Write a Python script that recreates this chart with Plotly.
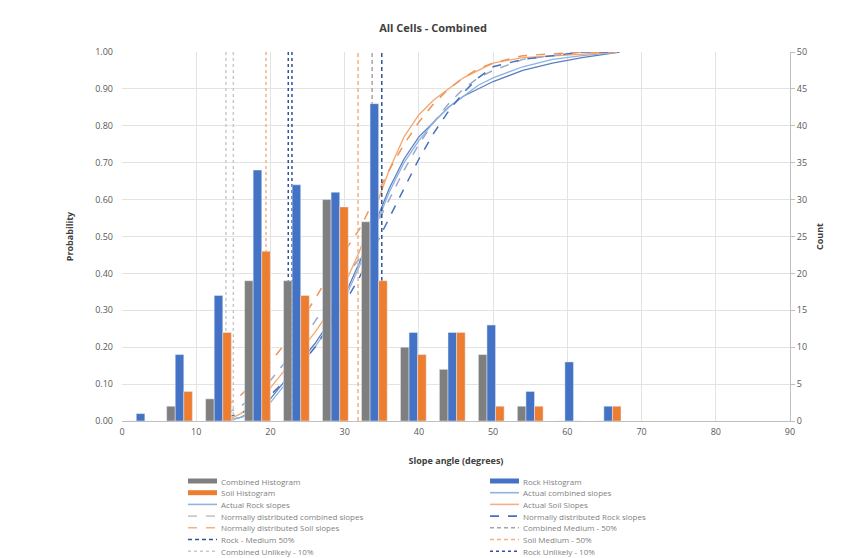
import plotly.graph_objects as go

# ---------------- data ----------------
bin_centers = [2.5, 7.75, 13.0, 18.25, 23.5, 28.75, 34.0, 39.25, 44.5, 49.75, 55.0, 60.25, 65.5]
combined_counts = [0, 2, 3, 19, 19, 30, 27, 10, 7, 9, 2, 0, 0]
rock_counts = [1, 9, 17, 34, 32, 31, 43, 12, 12, 13, 4, 8, 2]
soil_counts = [0, 4, 12, 23, 17, 29, 19, 9, 12, 2, 2, 0, 2]

cdf_x = [14, 16, 18, 20, 22, 24, 26, 28, 30, 32, 34, 36, 38, 40, 42, 44, 46, 48, 50, 54, 58, 62, 67]
actual_soil = [0, 0.02, 0.05, 0.09, 0.14, 0.19, 0.24, 0.30, 0.37, 0.46, 0.57, 0.68, 0.77, 0.83, 0.87, 0.90, 0.93, 0.95, 0.97, 0.985, 0.99, 0.995, 1.0]
actual_combined = [0, 0.01, 0.03, 0.06, 0.11, 0.16, 0.21, 0.27, 0.34, 0.43, 0.53, 0.63, 0.71, 0.77, 0.81, 0.85, 0.88, 0.90, 0.92, 0.95, 0.97, 0.985, 1.0]
actual_rock = [0, 0.01, 0.02, 0.05, 0.10, 0.15, 0.20, 0.26, 0.33, 0.42, 0.52, 0.62, 0.70, 0.76, 0.81, 0.85, 0.88, 0.91, 0.93, 0.96, 0.98, 0.99, 1.0]
normal_soil = [0.04, 0.07, 0.11, 0.16, 0.21, 0.27, 0.33, 0.40, 0.46, 0.52, 0.60, 0.68, 0.75, 0.81, 0.86, 0.90, 0.93, 0.955, 0.97, 0.99, 0.995, 1.0, 1.0]
normal_combined = [0.02, 0.04, 0.07, 0.11, 0.16, 0.21, 0.27, 0.33, 0.39, 0.44, 0.52, 0.60, 0.68, 0.75, 0.81, 0.86, 0.90, 0.93, 0.95, 0.98, 0.99, 1.0, 1.0]
normal_rock = [0.01, 0.02, 0.04, 0.07, 0.11, 0.15, 0.20, 0.26, 0.32, 0.39, 0.47, 0.55, 0.63, 0.71, 0.78, 0.84, 0.89, 0.93, 0.96, 0.98, 0.99, 1.0, 1.0]

combined_median = 33.7
rock_median = 35.0
soil_median = 31.8
combined_unlikely = [14.0, 15.0]
rock_unlikely = [22.4, 22.9]
soil_unlikely = 19.4

x_ticks = [0, 10, 20, 30, 40, 50, 60, 70, 80, 90]

# ---------------- styling ----------------
C_GRAY = "#7f7f7f"
C_BLUE = "#4472c4"
C_ORANGE = "#ed7d31"
FONT = "Open Sans"
TXT = "#595959"
SHORT_DASH = "4px,3px"

fig = go.Figure()

fig.add_trace(go.Bar(x=bin_centers, y=combined_counts, name="Combined Histogram",
                     marker_color=C_GRAY, yaxis="y2", showlegend=False))
fig.add_trace(go.Bar(x=bin_centers, y=rock_counts, name="Rock Histogram",
                     marker_color=C_BLUE, yaxis="y2", showlegend=False))
fig.add_trace(go.Bar(x=bin_centers, y=soil_counts, name="Soil Histogram",
                     marker_color=C_ORANGE, yaxis="y2", showlegend=False))

lines = [
    ("Actual combined slopes", actual_combined, "#5a7fc0", "solid", 1.3),
    ("Actual Rock slopes", actual_rock, "#8db3e2", "solid", 1.3),
    ("Actual Soil Slopes", actual_soil, "#f4a76f", "solid", 1.3),
    ("Normally distributed combined slopes", normal_combined, "#9aa9cc", "dash", 1.5),
    ("Normally distributed Rock slopes", normal_rock, "#4a6fc0", "dash", 1.5),
    ("Normally distributed Soil slopes", normal_soil, "#f0955a", "dash", 1.5),
]
for name, ys, col, dash, w in lines:
    fig.add_trace(go.Scatter(x=cdf_x, y=ys, name=name, mode="lines",
                             line=dict(color=col, dash=dash, width=w), showlegend=False))

def vline(name, xs, col, dash, w=1.5):
    if not isinstance(xs, list):
        xs = [xs]
    xx, yy = [], []
    for v in xs:
        xx += [v, v, None]
        yy += [0, 1, None]
    fig.add_trace(go.Scatter(x=xx, y=yy, name=name, mode="lines",
                             line=dict(color=col, dash=dash, width=w), showlegend=False))

vline("Combined Medium - 50%", combined_median, "#a5a5a5", SHORT_DASH)
vline("Rock - Medium 50%", rock_median, "#2f5597", SHORT_DASH)
vline("Soil Medium - 50%", soil_median, "#f4b183", SHORT_DASH)
vline("Combined Unlikely - 10%", combined_unlikely, "#c9c9c9", "dot")
vline("Rock Unlikely - 10%", rock_unlikely, "#2f5597", "dot")
vline("Soil Unlikely - 10%", soil_unlikely, "#f4b183", "dot")

# ---------------- layout ----------------
# page body has an 8px margin; positions below are in figure pixels
W, H = 845, 558
OFF = 8
L, R, T, B = 122 - OFF, 790 - OFF, 52 - OFF, 421 - OFF

fig.update_layout(
    width=W, height=H,
    margin=dict(l=L, r=W - R, t=T, b=H - B, pad=0),
    paper_bgcolor="white", plot_bgcolor="white",
    barmode="group", bargap=0.34, bargroupgap=0,
    font=dict(family=FONT, size=9, color=TXT),
    title=dict(text="<b>All Cells - Combined</b>", x=(433 - OFF) / W, xanchor="center",
               y=1 - (28 - OFF) / H, yanchor="middle", font=dict(size=11, color="#404040")),
    xaxis=dict(range=[0, 90], tickvals=x_ticks, showgrid=True, gridcolor="#e3e3e3",
               zeroline=False, showline=True, linecolor="#bfbfbf", ticks="",
               ticklabelstandoff=2,
               title=dict(text="<b>Slope angle (degrees)</b>", font=dict(size=9, color="#404040"),
                          standoff=20),
               tickfont=dict(size=9, color=TXT)),
    yaxis=dict(range=[0, 1.0], dtick=0.1, tickformat=".2f", showgrid=True,
               gridcolor="#e3e3e3", zeroline=False, showline=False,
               ticklabelstandoff=8,
               title=dict(text="<b>Probability</b>", font=dict(size=9, color="#404040"),
                          standoff=20),
               tickfont=dict(size=9, color=TXT)),
    yaxis2=dict(range=[0, 50], dtick=5, overlaying="y", side="right", showgrid=False,
                zeroline=False, showline=True, linecolor="#bfbfbf", ticks="outside",
                ticklen=4, tickcolor="#bfbfbf",
                title=dict(text="<b>Count</b>", font=dict(size=9, color="#404040"),
                           standoff=10),
                tickfont=dict(size=9, color=TXT)),
)

# ---------------- manual legend (two columns) ----------------
legend_items = [
    ("Combined Histogram", C_GRAY, "bar"),
    ("Rock Histogram", C_BLUE, "bar"),
    ("Soil Histogram", C_ORANGE, "bar"),
    ("Actual combined slopes", "#8db3e2", "solid"),
    ("Actual Rock slopes", "#8db3e2", "solid"),
    ("Actual Soil Slopes", "#f4b183", "solid"),
    ("Normally distributed combined slopes", "#c9c9c9", "dash"),
    ("Normally distributed Rock slopes", "#4a6fc0", "dash"),
    ("Normally distributed Soil slopes", "#f4b183", "dash"),
    ("Combined Medium - 50%", "#a5a5a5", SHORT_DASH),
    ("Rock - Medium 50%", "#2f5597", SHORT_DASH),
    ("Soil Medium - 50%", "#f4b183", SHORT_DASH),
    ("Combined Unlikely - 10%", "#c9c9c9", "dot"),
    ("Rock Unlikely - 10%", "#2f5597", "dot"),
]

def px_x(p):
    return (p - L) / (R - L)

def px_y(p):
    return (B - p) / (B - T)

col_x = [188 - OFF, 490 - OFF]
row0, row_h = 481 - OFF, 11.7
shapes = []
annotations = []
for i, (name, col, kind) in enumerate(legend_items):
    c = i % 2
    r = i // 2
    yc = row0 + r * row_h
    x0, x1 = col_x[c], col_x[c] + 29
    if kind == "bar":
        shapes.append(dict(type="rect", xref="paper", yref="paper",
                           x0=px_x(x0), x1=px_x(x1), y0=px_y(yc + 2.5), y1=px_y(yc - 2.5),
                           fillcolor=col, line=dict(width=0)))
    else:
        shapes.append(dict(type="line", xref="paper", yref="paper",
                           x0=px_x(x0), x1=px_x(x1), y0=px_y(yc), y1=px_y(yc),
                           line=dict(color=col, width=1.6, dash=kind)))
    annotations.append(dict(text=name, xref="paper", yref="paper", x=px_x(x1 + 2), y=px_y(yc),
                            xanchor="left", yanchor="middle", showarrow=False,
                            font=dict(size=8, color="#7f7f7f", family=FONT)))

fig.update_layout(shapes=shapes, annotations=annotations)

fig.write_html("out.html")
